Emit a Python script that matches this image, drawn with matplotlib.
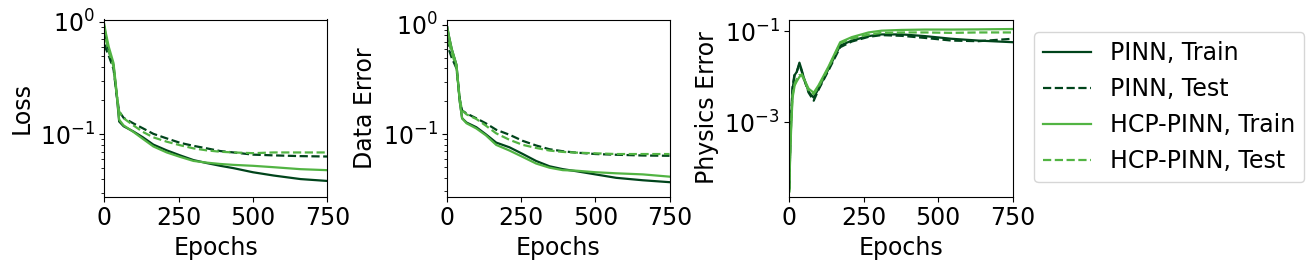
import matplotlib
matplotlib.use("Agg")
import matplotlib.pyplot as plt
from matplotlib.ticker import NullLocator

# ---------------- data ----------------
epochs = [0, 5, 15, 31, 42, 50, 65, 98, 130, 165, 210, 255, 300, 345, 390, 435, 500, 570, 660, 750]

loss_pinn_train = [0.90, 0.75, 0.55, 0.41, 0.22, 0.13, 0.118, 0.106, 0.094, 0.081, 0.072, 0.065, 0.059, 0.0555, 0.0525, 0.050, 0.046, 0.043, 0.040, 0.0385]
loss_pinn_test = [0.80, 0.58, 0.50, 0.38, 0.22, 0.16, 0.14, 0.125, 0.113, 0.101, 0.092, 0.084, 0.079, 0.075, 0.071, 0.069, 0.066, 0.065, 0.064, 0.0635]
loss_hcp_train = [0.95, 0.80, 0.60, 0.43, 0.23, 0.135, 0.12, 0.105, 0.091, 0.078, 0.069, 0.063, 0.058, 0.056, 0.0545, 0.0535, 0.0525, 0.051, 0.049, 0.048]
loss_hcp_test = [0.90, 0.70, 0.55, 0.40, 0.22, 0.16, 0.139, 0.12, 0.105, 0.094, 0.086, 0.080, 0.075, 0.072, 0.070, 0.069, 0.068, 0.069, 0.069, 0.069]

data_pinn_train = [0.95, 0.80, 0.60, 0.43, 0.20, 0.14, 0.128, 0.116, 0.10, 0.084, 0.076, 0.066, 0.057, 0.051, 0.048, 0.046, 0.043, 0.040, 0.038, 0.0365]
data_pinn_test = [0.75, 0.60, 0.50, 0.40, 0.21, 0.165, 0.155, 0.14, 0.126, 0.11, 0.099, 0.087, 0.079, 0.073, 0.070, 0.068, 0.066, 0.065, 0.064, 0.0636]
data_hcp_train = [0.95, 0.80, 0.60, 0.43, 0.20, 0.14, 0.126, 0.113, 0.098, 0.080, 0.071, 0.062, 0.054, 0.0495, 0.047, 0.0465, 0.045, 0.044, 0.043, 0.041]
data_hcp_test = [0.90, 0.70, 0.55, 0.41, 0.21, 0.165, 0.152, 0.138, 0.12, 0.102, 0.089, 0.080, 0.075, 0.071, 0.069, 0.068, 0.067, 0.066, 0.066, 0.066]

phys_epochs = [0, 3, 7, 11, 18, 25, 34, 42, 48, 65, 82, 98, 132, 171, 210, 266, 310, 378, 456, 545, 635, 750]
phys_pinn_train = [3.5e-5, 2.7e-4, 1.45e-3, 5.5e-3, 0.011, 0.0129, 0.0206, 0.014, 0.010, 0.0047, 0.0035, 0.0055, 0.015, 0.049, 0.063, 0.079, 0.086, 0.086, 0.079, 0.069, 0.063, 0.058]
phys_pinn_test = [3.5e-5, 3.0e-4, 1.8e-3, 6.0e-3, 0.012, 0.013, 0.019, 0.013, 0.0095, 0.0045, 0.0030, 0.0052, 0.014, 0.045, 0.060, 0.076, 0.083, 0.080, 0.072, 0.063, 0.061, 0.069]
phys_hcp_train = [3.0e-5, 2.0e-4, 1.0e-3, 3.5e-3, 0.0065, 0.008, 0.010, 0.0115, 0.0095, 0.0055, 0.0045, 0.0065, 0.017, 0.058, 0.075, 0.095, 0.104, 0.108, 0.110, 0.110, 0.111, 0.113]
phys_hcp_test = [3.0e-5, 2.5e-4, 1.3e-3, 4.0e-3, 0.007, 0.009, 0.011, 0.011, 0.009, 0.005, 0.0042, 0.006, 0.016, 0.055, 0.070, 0.085, 0.093, 0.095, 0.095, 0.093, 0.095, 0.095]

labels = ["PINN, Train", "PINN, Test", "HCP-PINN, Train", "HCP-PINN, Test"]
ylabels = ["Loss", "Data Error", "Physics Error"]
xticks = [0, 250, 500, 750]

# ---------------- style ----------------
dark = "#00441b"
light = "#52b443"
fs = 17
plt.rcParams["font.family"] = ["DejaVu Sans"]
plt.rcParams["font.size"] = fs

W, H = 1314, 269
fig = plt.figure(figsize=(W / 100, H / 100), dpi=100)

def ax_at(x0, x1, y0, y1):
    return fig.add_axes([x0 / W, 1 - y1 / H, (x1 - x0) / W, (y1 - y0) / H])

axes = [ax_at(104.3, 327.3, 19.5, 196.5),
        ax_at(447.3, 669.5, 19.5, 196.5),
        ax_at(789.3, 1012.5, 19.5, 196.5)]

panels = [
    (epochs, [loss_pinn_train, loss_pinn_test, loss_hcp_train, loss_hcp_test], (0.028, 1.05)),
    (epochs, [data_pinn_train, data_pinn_test, data_hcp_train, data_hcp_test], (0.027, 1.12)),
    (phys_epochs, [phys_pinn_train, phys_pinn_test, phys_hcp_train, phys_hcp_test], (2.35e-5, 0.183)),
]
styles = [(dark, "-"), (dark, "--"), (light, "-"), (light, "--")]

handles = []
for i, (ax, (ep, series, ylim)) in enumerate(zip(axes, panels)):
    for s, (c, ls), lab in zip(series, styles, labels):
        h, = ax.plot(ep, s, color=c, ls=ls, lw=1.6, label=lab)
        if i == 0:
            handles.append(h)
    ax.set_yscale("log")
    ax.set_xlim(0, 750)
    ax.set_ylim(*ylim)
    ax.set_xticks(xticks)
    ax.set_xlabel("Epochs", fontsize=fs)
    ax.set_ylabel(ylabels[i], fontsize=fs)
    ax.tick_params(labelsize=fs)
    if i == 2:
        ax.set_yticks([1e-3, 1e-1])
        ax.yaxis.set_minor_locator(NullLocator())

fig.legend(handles=handles, labels=labels, loc="upper left",
           bbox_to_anchor=(1034 / W, 1 - 32 / H), borderaxespad=0,
           fontsize=fs, labelspacing=0.5, frameon=True)

fig.savefig("out.png", dpi=100)
